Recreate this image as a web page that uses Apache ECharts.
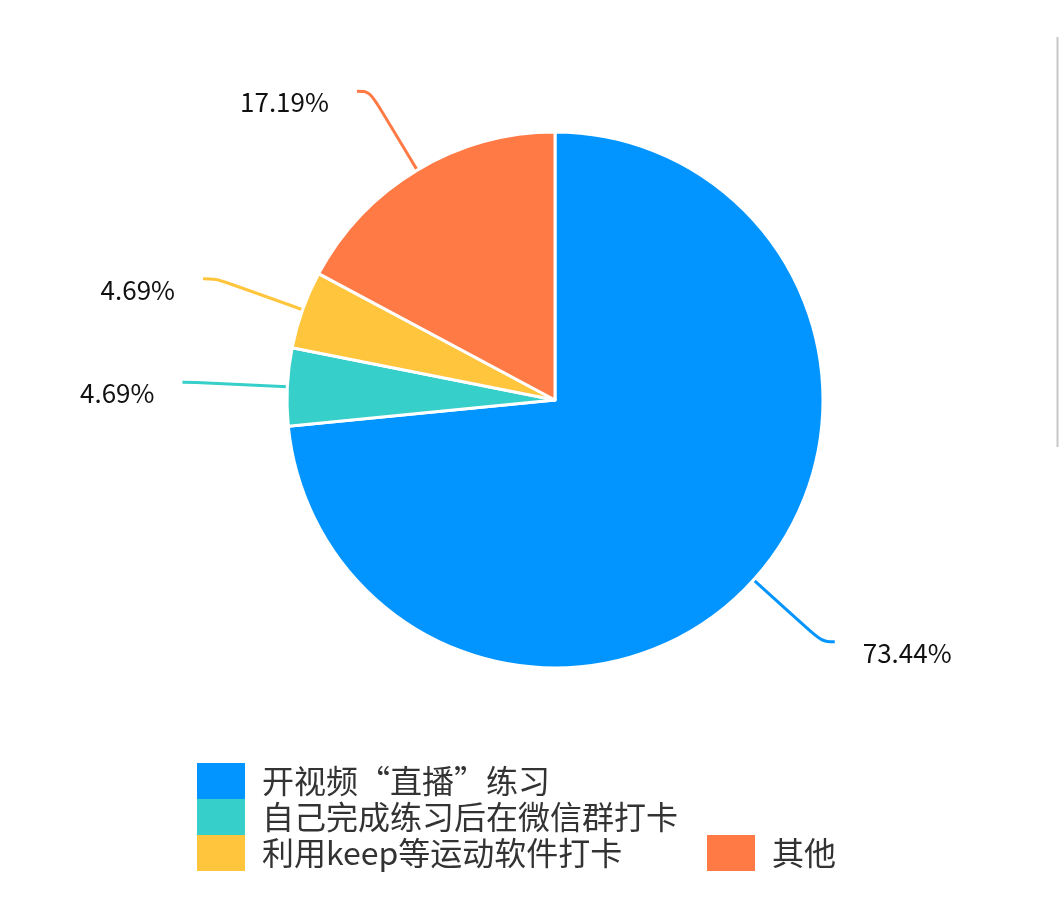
<!DOCTYPE html>
<html>
<head>
<meta charset="utf-8">
<style>
  html, body { margin: 0; padding: 0; background: #fff; }
  #main { width: 1059px; height: 905px; }
</style>
<script src="https://cdn.jsdelivr.net/npm/echarts@6/dist/echarts.min.js"></script>
</head>
<body>
<div id="main"></div>
<script>
var categories = ['开视频“直播”练习', '自己完成练习后在微信群打卡', '利用keep等运动软件打卡', '其他'];
var counts = [47, 3, 3, 11];
var colors = ['#0395FF', '#36CFC9', '#FFC53D', '#FF7A45'];

var chartDom = document.getElementById('main');
var myChart = echarts.init(chartDom);
var option;

var font = '"Noto Sans CJK SC", "Noto Sans", sans-serif';
var total = counts.reduce(function (a, b) { return a + b; }, 0);

var pieData = categories.map(function (name, i) {
  return { name: name, value: counts[i], itemStyle: { color: colors[i] } };
});

var legendBase = {
  orient: 'vertical',
  icon: 'rect',
  padding: 0,
  itemWidth: 48,
  itemHeight: 36,
  itemGap: 0,
  itemStyle: { borderWidth: 0 },
  textStyle: {
    fontFamily: font,
    fontSize: 32,
    color: '#333',
    padding: [0, 0, 0, 12]
  }
};

option = {
  backgroundColor: '#fff',
  color: colors,
  legend: [
    Object.assign({}, legendBase, {
      left: 197,
      top: 763,
      data: categories.slice(0, 3)
    }),
    Object.assign({}, legendBase, {
      left: 707,
      top: 835,
      data: categories.slice(3)
    })
  ],
  graphic: [
    {
      type: 'line',
      shape: { x1: 1057.5, y1: 37, x2: 1057.5, y2: 447 },
      style: { stroke: '#c8c8c8', lineWidth: 2 }
    }
  ],
  series: [
    {
      type: 'pie',
      center: [555, 400],
      radius: 268,
      startAngle: 90,
      clockwise: true,
      avoidLabelOverlap: false,
      itemStyle: {
        borderColor: '#fff',
        borderWidth: 3
      },
      label: {
        show: true,
        position: 'outside',
        distanceToLabelLine: 28,
        formatter: function (p) {
          return '{p|' + (p.value / total * 100).toFixed(2) + '%}';
        },
        rich: {
          p: {
            fontFamily: font,
            fontSize: 26,
            color: '#111',
            padding: [22, 0, 0, 0]
          }
        }
      },
      labelLine: {
        show: true,
        length: 92,
        length2: 13,
        smooth: 0.4,
        lineStyle: { width: 3 }
      },
      emphasis: { disabled: true },
      data: pieData
    }
  ]
};

option && myChart.setOption(option);
</script>
</body>
</html>
